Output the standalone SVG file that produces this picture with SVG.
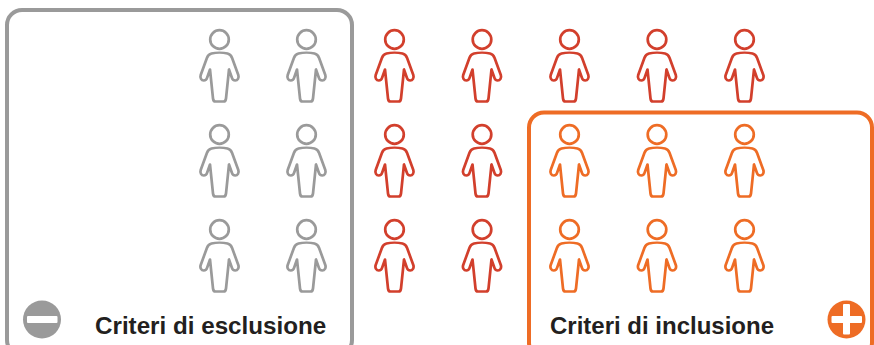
<svg xmlns="http://www.w3.org/2000/svg" width="874" height="345" viewBox="0 0 874 345">
<style>
.g{color:#9a9a9a}.r{color:#d23f2c}.o{color:#ee6c25}
.s{fill:none;stroke:currentColor;stroke-width:2.7;stroke-linejoin:round}
.f{fill:none;stroke-width:4}
.t{font-family:"Liberation Sans",Arial,sans-serif;font-weight:700;font-size:24.2px;fill:#231f20}
</style>
<defs>
<g id="p" class="s">
<circle cx="0" cy="0" r="9.300"/>
<path d="M-8 14C-4 13 4 13 8 14C10.500 14.600 11.700 16 12.600 18.500L18.800 35.500C19.800 38.500 18 41 15.800 41C14 41 12.800 40 12.300 38L9.500 30L6.500 59C6.300 61 5.500 62 4 62H-4C-5.500 62 -6.300 61 -6.500 59L-9.500 30L-12.300 38C-12.800 40 -14 41 -15.800 41C-18 41 -19.800 38.500 -18.800 35.500L-12.600 18.500C-11.700 16 -10.500 14.600 -8 14Z"/>
</g>
</defs>
<rect width="874" height="345" fill="#fff"/>
<g id="frames">
<rect id="frame-esclusione" x="7" y="10" width="345" height="345" rx="15" class="f" stroke="#9a9a9a"/>
<rect id="frame-inclusione" x="529" y="112.500" width="343" height="245" rx="15" class="f" stroke="#ee6c25"/>
</g>
<g id="people">
<g id="p1" class="g"><use href="#p" x="219.500" y="39.500"/></g>
<g id="p2" class="g"><use href="#p" x="306.500" y="39.500"/></g>
<g id="p3" class="r"><use href="#p" x="394.500" y="39.500"/></g>
<g id="p4" class="r"><use href="#p" x="482" y="39.500"/></g>
<g id="p5" class="r"><use href="#p" x="569.500" y="39.500"/></g>
<g id="p6" class="r"><use href="#p" x="657" y="39.500"/></g>
<g id="p7" class="r"><use href="#p" x="744.500" y="39.500"/></g>
<g id="p8" class="g"><use href="#p" x="219.500" y="134.500"/></g>
<g id="p9" class="g"><use href="#p" x="306.500" y="134.500"/></g>
<g id="p10" class="r"><use href="#p" x="394.500" y="134.500"/></g>
<g id="p11" class="r"><use href="#p" x="482" y="134.500"/></g>
<g id="p12" class="o"><use href="#p" x="569.500" y="134.500"/></g>
<g id="p13" class="o"><use href="#p" x="657" y="134.500"/></g>
<g id="p14" class="o"><use href="#p" x="744.500" y="134.500"/></g>
<g id="p15" class="g"><use href="#p" x="219.500" y="229.500"/></g>
<g id="p16" class="g"><use href="#p" x="306.500" y="229.500"/></g>
<g id="p17" class="r"><use href="#p" x="394.500" y="229.500"/></g>
<g id="p18" class="r"><use href="#p" x="482" y="229.500"/></g>
<g id="p19" class="o"><use href="#p" x="569.500" y="229.500"/></g>
<g id="p20" class="o"><use href="#p" x="657" y="229.500"/></g>
<g id="p21" class="o"><use href="#p" x="744.500" y="229.500"/></g>
</g>
<g id="minus">
<circle cx="42" cy="319.500" r="19" fill="#9a9a9a"/>
<rect x="27" y="316" width="30.500" height="7" rx="1" fill="#fff"/>
</g>
<g id="plus">
<circle cx="846.500" cy="319.500" r="19" fill="#ee6c25"/>
<rect x="831.500" y="316" width="30.500" height="7" rx="1" fill="#fff"/>
<rect x="843" y="304" width="7" height="30.500" rx="1" fill="#fff"/>
</g>
<g id="labels">
<text class="t" x="95" y="334">Criteri di esclusione</text>
<text class="t" x="550" y="334" style="font-size:24px">Criteri di inclusione</text>
</g>
<g id="connectors"/>
</svg>
